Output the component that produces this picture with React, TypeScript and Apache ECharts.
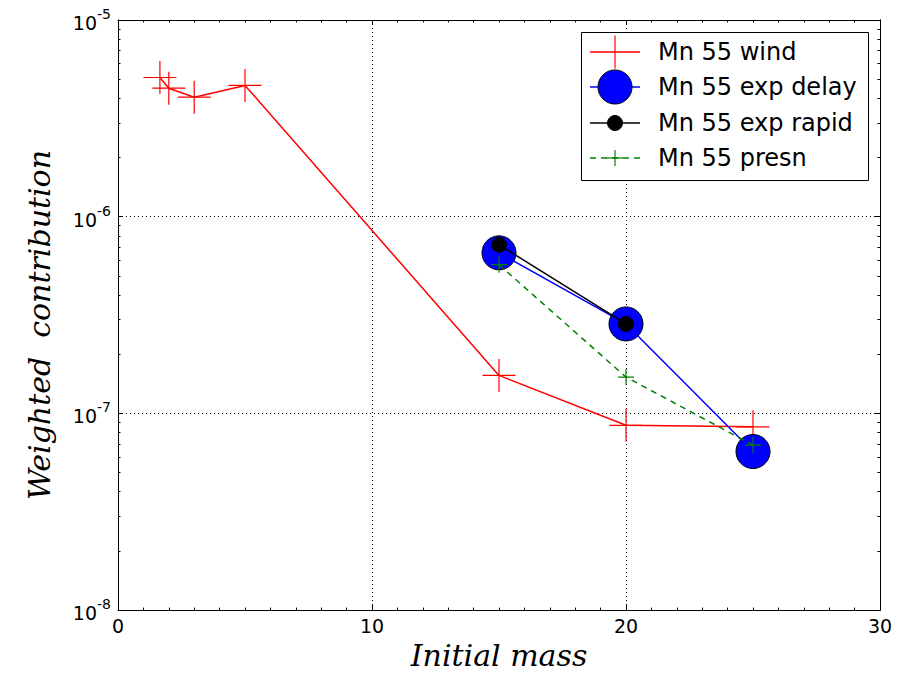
import React, { useEffect, useRef } from "react";
import * as echarts from "echarts";

const windX = [1.65, 2, 3, 5, 15, 20, 25];
const windY = [5.1e-6, 4.5e-6, 4.05e-6, 4.65e-6, 1.56e-7, 8.7e-8, 8.55e-8];
const delayX = [15, 20, 25];
const delayY = [6.55e-7, 2.85e-7, 6.4e-8];
const rapidX = [15, 20];
const rapidY = [7.2e-7, 2.85e-7];
const presnX = [15, 20, 25];
const presnY = [5.7e-7, 1.53e-7, 6.9e-8];

const seriesNames = ["Mn 55 wind", "Mn 55 exp delay", "Mn 55 exp rapid", "Mn 55 presn"];
const xTicks = [0, 10, 20, 30];
const yMajor = [1e-8, 1e-7, 1e-6, 1e-5];
const yMinor: number[] = [];
[1e-8, 1e-7, 1e-6].forEach((d) => {
  for (let k = 2; k <= 9; k++) yMinor.push(d * k);
});

const PLUS = "path://M1,0 L1,2 M0,1 L2,1";

const pairs = (xs: number[], ys: number[]) => xs.map((x, i) => [x, ys[i]]);

export default function App() {
  const ref = useRef<HTMLDivElement>(null);
  useEffect(() => {
    const chart = echarts.init(ref.current!, null, { renderer: "svg" });
    const font = "DejaVu Sans";
    const serif = "DejaVu Serif";
    const baseY = {
      type: "log" as const,
      logBase: 10,
      min: yMajor[0],
      max: yMajor[yMajor.length - 1],
      axisLine: { show: true, lineStyle: { color: "#000", width: 1 } },
      splitLine: { show: false },
      axisLabel: { show: false },
    };
    const legendItems: any[] = [];
    const lx0 = 590, lx1 = 640, lcx = 615, tx = 658;
    const rowsY = [52, 87, 123, 158];
    legendItems.push({
      type: "rect",
      shape: { x: 581.5, y: 32.5, width: 287, height: 148 },
      style: { fill: "#fff", stroke: "#000", lineWidth: 1 },
      z: 100,
    });
    // wind
    legendItems.push({ type: "line", shape: { x1: lx0, y1: rowsY[0], x2: lx1, y2: rowsY[0] }, style: { stroke: "#ff0000", lineWidth: 1.5 }, z: 101 });
    legendItems.push({ type: "line", shape: { x1: lcx, y1: rowsY[0] - 16.5, x2: lcx, y2: rowsY[0] + 16.5 }, style: { stroke: "#ff0000", lineWidth: 1.2 }, z: 101 });
    // delay
    legendItems.push({ type: "line", shape: { x1: lx0, y1: rowsY[1], x2: lx1, y2: rowsY[1] }, style: { stroke: "#0000ff", lineWidth: 1.5 }, z: 101 });
    legendItems.push({ type: "circle", shape: { cx: lcx, cy: rowsY[1], r: 17 }, style: { fill: "#0000ff", stroke: "#000", lineWidth: 1 }, z: 102 });
    // rapid
    legendItems.push({ type: "line", shape: { x1: lx0, y1: rowsY[2], x2: lx1, y2: rowsY[2] }, style: { stroke: "#000", lineWidth: 1.5 }, z: 101 });
    legendItems.push({ type: "circle", shape: { cx: lcx, cy: rowsY[2], r: 7.5 }, style: { fill: "#000", stroke: "#000", lineWidth: 1 }, z: 102 });
    // presn
    legendItems.push({ type: "line", shape: { x1: lx0, y1: rowsY[3], x2: lx1, y2: rowsY[3] }, style: { stroke: "#008000", lineWidth: 1.5, lineDash: [6, 5] }, z: 101 });
    legendItems.push({ type: "line", shape: { x1: lcx, y1: rowsY[3] - 8, x2: lcx, y2: rowsY[3] + 8 }, style: { stroke: "#008000", lineWidth: 1.2 }, z: 101 });
    legendItems.push({ type: "line", shape: { x1: lcx - 8, y1: rowsY[3], x2: lcx + 8, y2: rowsY[3] }, style: { stroke: "#008000", lineWidth: 1.2 }, z: 101 });
    seriesNames.forEach((n, i) => {
      legendItems.push({
        type: "text",
        x: tx,
        y: rowsY[i],
        style: { text: n, fill: "#000", font: `24px '${font}'`, textVerticalAlign: "middle", textAlign: "left" },
        z: 103,
      });
    });

    chart.setOption({
      animation: false,
      backgroundColor: "#fff",
      grid: { left: 118, top: 20, right: 30, bottom: 61, containLabel: false },
      xAxis: [
        {
          type: "value",
          min: 0,
          max: 30,
          interval: 10,
          position: "bottom",
          axisLine: { show: true, lineStyle: { color: "#000", width: 1 } },
          axisTick: { show: true, inside: true, length: 5, lineStyle: { color: "#000" } },
          minorTick: { show: true, splitNumber: 10, length: 2.5, lineStyle: { color: "#000" } },
          splitLine: { show: true, lineStyle: { color: "#000", type: [1, 3], width: 1 } },
          axisLabel: { fontSize: 19, color: "#000", fontFamily: font, margin: 6, customValues: xTicks },
          name: "Initial mass",
          nameLocation: "middle",
          nameGap: 26,
          nameTextStyle: { fontFamily: serif, fontStyle: "italic", fontSize: 30, color: "#000" },
        },
        {
          type: "value",
          min: 0,
          max: 30,
          interval: 10,
          position: "top",
          axisLine: { show: true, lineStyle: { color: "#000", width: 1 } },
          axisTick: { show: true, inside: true, length: 5, lineStyle: { color: "#000" } },
          minorTick: { show: true, splitNumber: 10, length: 2.5, lineStyle: { color: "#000" } },
          splitLine: { show: false },
          axisLabel: { show: false },
        },
      ],
      yAxis: [
        {
          ...baseY,
          position: "left",
          axisTick: { show: true, inside: true, length: 5, lineStyle: { color: "#000" } },
          splitLine: { show: true, lineStyle: { color: "#000", type: [1, 3], width: 1 } },
          axisLabel: {
            show: true,
            margin: 7,
            formatter: (v: number) => `{b|10}{s|${Math.round(Math.log10(v))}}`,
            rich: {
              b: { fontSize: 19, fontFamily: font, color: "#000", padding: [6, 0, 0, 0] },
              s: { fontSize: 14, fontFamily: font, color: "#000", padding: [0, 0, 12, 0] },
            },
          },
          name: "Weighted  contribution",
          nameLocation: "middle",
          nameGap: 64,
          nameRotate: 90,
          nameTextStyle: { fontFamily: serif, fontStyle: "italic", fontSize: 30, color: "#000", padding: [0, 0, 0, -20] },
        },
        {
          ...baseY,
          position: "left",
          axisTick: { show: true, inside: true, length: 2.5, customValues: yMinor, lineStyle: { color: "#000" } },
        },
        {
          ...baseY,
          position: "right",
          axisTick: { show: true, inside: true, length: 5, lineStyle: { color: "#000" } },
        },
        {
          ...baseY,
          position: "right",
          axisTick: { show: true, inside: true, length: 2.5, customValues: yMinor, lineStyle: { color: "#000" } },
        },
      ],
      series: [
        {
          name: seriesNames[0],
          type: "line",
          data: pairs(windX, windY),
          symbol: PLUS,
          symbolSize: 33,
          lineStyle: { color: "#ff0000", width: 1.5 },
          itemStyle: { color: "rgba(0,0,0,0)", borderColor: "#ff0000", borderWidth: 1.2 },
          z: 2,
        },
        {
          name: seriesNames[1],
          type: "line",
          data: pairs(delayX, delayY),
          symbol: "circle",
          symbolSize: 34,
          lineStyle: { color: "#0000ff", width: 1.5 },
          itemStyle: { color: "#0000ff", borderColor: "#000", borderWidth: 1 },
          z: 3,
        },
        {
          name: seriesNames[2],
          type: "line",
          data: pairs(rapidX, rapidY),
          symbol: "circle",
          symbolSize: 15,
          lineStyle: { color: "#000", width: 1.5 },
          itemStyle: { color: "#000", borderColor: "#000", borderWidth: 1 },
          z: 4,
        },
        {
          name: seriesNames[3],
          type: "line",
          data: pairs(presnX, presnY),
          symbol: PLUS,
          symbolSize: 16,
          lineStyle: { color: "#008000", width: 1.5, type: [6, 5] },
          itemStyle: { color: "rgba(0,0,0,0)", borderColor: "#008000", borderWidth: 1.2 },
          z: 5,
        },
      ],
      graphic: legendItems,
    });
    return () => chart.dispose();
  }, []);
  return <div ref={ref} style={{ width: 910, height: 675, position: "absolute", left: 0, top: 0 }} />;
}
